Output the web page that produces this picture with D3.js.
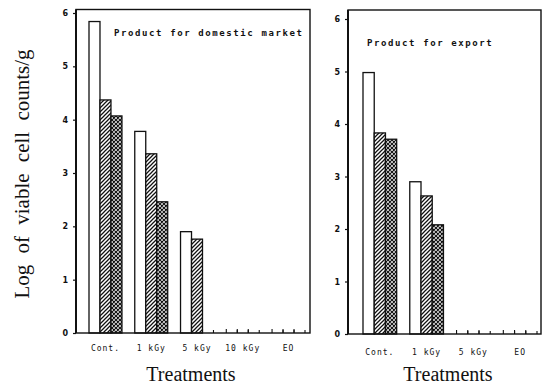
<!DOCTYPE html>
<html lang="en">
<head>
  <meta charset="utf-8" />
  <title>Viable cell counts by treatment</title>
  <script src="https://cdnjs.cloudflare.com/ajax/libs/d3/7.8.5/d3.min.js"></script>
  <style>
    body { margin: 0; background: #fff; }
    svg { display: block; }
    .tick-lbl { font-family: 'DejaVu Sans', sans-serif; font-size: 8px; font-weight: bold; fill: #111; }
    .cat-lbl { font-family: 'DejaVu Sans Mono', monospace; font-size: 8px; letter-spacing: 1px; fill: #111; }
    .panel-title { font-family: 'DejaVu Sans Mono', monospace; font-size: 9px; font-weight: bold; letter-spacing: 1.6px; fill: #111; }
    .serif { font-family: 'Liberation Serif', 'Times New Roman', serif; fill: #111; }
  </style>
</head>
<body>
<svg id="chart" width="548" height="387"></svg>
<script>
// ---- data (log CFU/g) ----
const domesticCats = ["Cont.", "1 kGy", "5 kGy", "10 kGy", "EO"];
const domesticWhite = [5.84, 3.78, 1.90, 0, 0];
const domesticHatched = [4.37, 3.36, 1.76, 0, 0];
const domesticCross = [4.07, 2.46, 0, 0, 0];

const exportCats = ["Cont.", "1 kGy", "5 kGy", "EO"];
const exportWhite = [4.98, 2.90, 0, 0];
const exportHatched = [3.83, 2.63, 0, 0];
const exportCross = [3.71, 2.08, 0, 0];

const yTicks = [0, 1, 2, 3, 4, 5, 6];

const svg = d3.select("#chart");

// patterns
const defs = svg.append("defs");
const hatch = defs.append("pattern").attr("id", "hatch")
  .attr("patternUnits", "userSpaceOnUse").attr("width", 4).attr("height", 4);
hatch.append("rect").attr("width", 4).attr("height", 4).attr("fill", "#fff");
hatch.append("path").attr("d", "M-1,1 l2,-2 M0,4 l4,-4 M3,5 l2,-2")
  .attr("stroke", "#111").attr("stroke-width", 1.25);

const cross = defs.append("pattern").attr("id", "cross")
  .attr("patternUnits", "userSpaceOnUse").attr("width", 4).attr("height", 4);
cross.append("rect").attr("width", 4).attr("height", 4).attr("fill", "#fff");
cross.append("path").attr("d", "M-1,1 l2,-2 M0,4 l4,-4 M3,5 l2,-2 M-1,3 l2,2 M0,0 l4,4 M3,-1 l2,2")
  .attr("stroke", "#111").attr("stroke-width", 1.2);

function panel(opts) {
  const { cats, series, frame, band, yRange, title, titlePos, catY, treatX } = opts;
  const g = svg.append("g");

  const x = d3.scaleBand().domain(cats).range(band).paddingInner(0.28).paddingOuter(0);
  const y = d3.scaleLinear().domain([0, 6]).range(yRange);
  const sub = d3.scaleBand().domain(d3.range(series.length)).range([0, x.bandwidth()]);
  const fills = ["#fff", "url(#hatch)", "url(#cross)"];

  // bars; zero values only leave their edge ticks on the baseline
  series.forEach((vals, si) => {
    const data = vals.map((v, i) => ({ cat: cats[i], v }));
    g.selectAll(null)
      .data(data.filter(d => d.v > 0))
      .join("rect")
      .attr("x", d => x(d.cat) + sub(si))
      .attr("y", d => y(d.v))
      .attr("width", sub.bandwidth())
      .attr("height", d => y(0) - y(d.v))
      .attr("fill", fills[si])
      .attr("stroke", "#111")
      .attr("stroke-width", 1.3);
    g.selectAll(null)
      .data(data.filter(d => d.v === 0))
      .join("path")
      .attr("d", d => {
        const x0 = x(d.cat) + sub(si), x1 = x0 + sub.bandwidth(), b = y(0);
        return `M${x0},${b} v-4 M${x1},${b} v-3`;
      })
      .attr("stroke", "#111")
      .attr("stroke-width", 1.1);
  });

  // frame
  g.append("rect")
    .attr("x", frame[0]).attr("y", frame[1])
    .attr("width", frame[2] - frame[0]).attr("height", y(0) - frame[1])
    .attr("fill", "none").attr("stroke", "#111").attr("stroke-width", 1.4);
  g.append("line")
    .attr("x1", frame[0]).attr("x2", frame[0])
    .attr("y1", frame[1]).attr("y2", y(0))
    .attr("stroke", "#111").attr("stroke-width", 2);

  // y axis ticks
  const ax = g.append("g").attr("transform", `translate(${frame[0]},0)`)
    .call(d3.axisLeft(y).tickValues(yTicks).tickSize(3).tickPadding(5).tickFormat(d3.format("d")));
  ax.select(".domain").remove();
  ax.selectAll("line").attr("stroke", "#111").attr("stroke-width", 1.2);
  ax.selectAll("text").attr("class", "tick-lbl").attr("font-size", null).attr("font-family", null);

  // category labels
  g.selectAll(null).data(cats).join("text")
    .attr("class", "cat-lbl")
    .attr("x", d => x(d) + x.bandwidth() / 2)
    .attr("y", catY)
    .attr("text-anchor", "middle")
    .text(d => d);

  // panel title
  g.append("text").attr("class", "panel-title")
    .attr("x", titlePos[0]).attr("y", titlePos[1]).text(title);

  // x title
  g.append("text").attr("class", "serif")
    .attr("x", treatX).attr("y", 381)
    .attr("text-anchor", "middle")
    .style("font-size", "20px")
    .text("Treatments");
}

panel({
  cats: domesticCats,
  series: [domesticWhite, domesticHatched, domesticCross],
  frame: [76, 9.5, 310],
  band: [89, 305],
  yRange: [333, 13],
  title: "Product for domestic market",
  titlePos: [114, 36],
  catY: 351,
  treatX: 191
});

panel({
  cats: exportCats,
  series: [exportWhite, exportHatched, exportCross],
  frame: [348, 10, 541],
  band: [363, 537],
  yRange: [334, 19],
  title: "Product for export",
  titlePos: [367, 46],
  catY: 355,
  treatX: 448
});

// y axis title
svg.append("text").attr("class", "serif")
  .attr("transform", "translate(29,174) rotate(-90)")
  .attr("text-anchor", "middle")
  .style("font-size", "21px")
  .style("word-spacing", "6px")
  .text("Log of viable cell counts/g");
</script>
</body>
</html>
